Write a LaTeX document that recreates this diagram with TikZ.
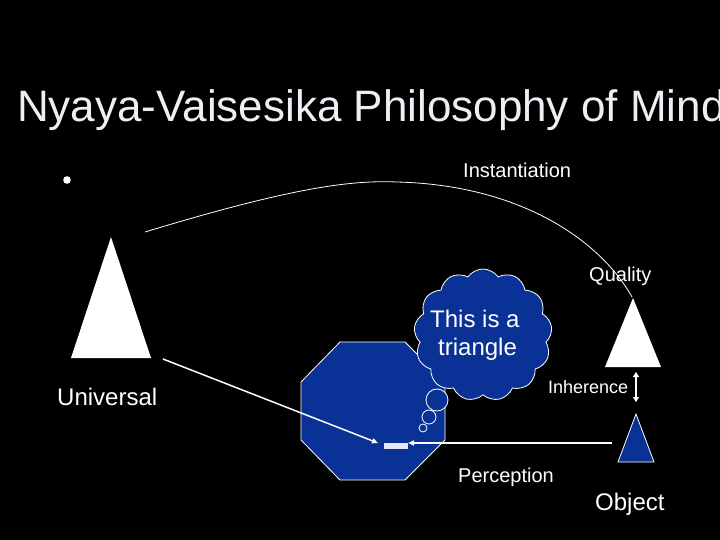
\documentclass[tikz,border=0pt]{standalone}
\usepackage{fontspec}
\setmainfont{Liberation Sans}
\usetikzlibrary{shapes.symbols,arrows.meta}
\definecolor{slideblue}{RGB}{10,50,150}
\definecolor{titlewhite}{RGB}{236,239,244}
\tikzset{
  lbl/.style={text=white,anchor=base west,inner sep=0pt},
  bluefill/.style={fill=slideblue,draw=white,line width=0.8pt},
  arr/.style={draw=white,line width=1.5pt,-{Triangle[length=6pt,width=5pt]}},
}
\begin{document}
\begin{tikzpicture}[x=1pt,y=-1pt]
\path[use as bounding box,fill=black] (0,0) rectangle (720,540);
% title
\node[lbl,text=titlewhite,font=\fontsize{44}{50}\selectfont] (title) at (17,122) {Nyaya-Vaisesika Philosophy of Mind};
% bullet
\fill[white] (67,180) circle (3.8);
% universal triangle
\fill[white] (111,237) -- (151,358) -- (71,358) -- cycle;
\coordinate (univ) at (163,359);
\node[lbl,font=\fontsize{24}{28}\selectfont] (universal) at (57,405) {Universal};
% quality triangle
\fill[white] (633,298) -- (661,367) -- (605,367) -- cycle;
\coordinate (qtop) at (632,297);
\coordinate (istart) at (145,232);
\node[lbl,font=\fontsize{20}{24}\selectfont] (inst) at (463,178) {Instantiation};
\node[lbl,font=\fontsize{20}{24}\selectfont] (quality) at (589,281) {Quality};
\draw[white,line width=0.8pt] (istart) .. controls (290,188) and (350,180) .. (397,182)
   .. controls (520,185) and (600,240) .. (qtop);
% inherence
\node[lbl,font=\fontsize{18}{22}\selectfont] (inher) at (548,393) {Inherence};
\coordinate (ih1) at (636,372);
\coordinate (ih2) at (636,402);
\draw[white,line width=2pt,{Triangle[length=5pt,width=6pt]}-{Triangle[length=5pt,width=6pt]}] (ih1) -- (ih2);
% object triangle
\draw[bluefill] (636,414) -- (654,462) -- (618,462) -- cycle;
\coordinate (objl) at (612,443);
\node[lbl,font=\fontsize{24}{28}\selectfont] (object) at (595,510) {Object};
% octagon (mind)
\draw[bluefill] (340,342) -- (405,342) -- (445,382) -- (445,440) -- (405,480) -- (340,480) -- (301,440) -- (301,382) -- cycle;
\fill[white!88!slideblue] (384,443) rectangle (408,449);
\coordinate (pt) at (408,443);
\coordinate (ut) at (378,443);
% arrows
\draw[arr] (univ) -- (ut);
\draw[arr] (objl) -- (pt);
\node[lbl,font=\fontsize{20}{24}\selectfont] (perc) at (458,482) {Perception};
% thought cloud
\node[cloud,cloud puffs=13,cloud puff arc=110,bluefill,minimum width=138pt,minimum height=132pt,inner sep=0pt] (cloud) at (483,335) {};
\node[lbl,font=\fontsize{24}{28}\selectfont] (t1) at (430,327) {This is a};
\node[lbl,font=\fontsize{24}{28}\selectfont] (t2) at (438,355) {triangle};
\draw[bluefill] (437,400) circle (11);
\draw[bluefill] (429,417) circle (7);
\draw[bluefill] (423,428) circle (4);
\end{tikzpicture}
\end{document}
